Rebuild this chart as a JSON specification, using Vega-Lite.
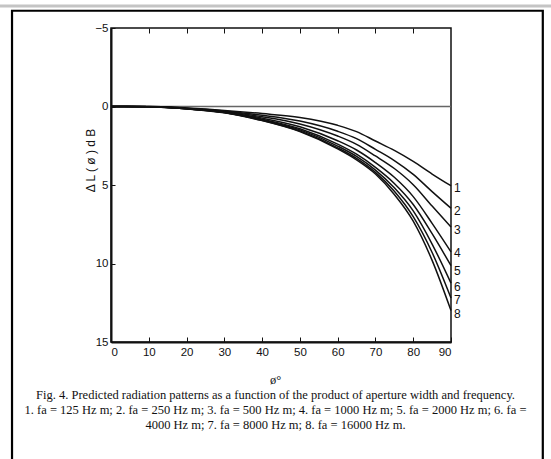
{
  "$schema": "https://vega.github.io/schema/vega-lite/v6.json",
  "width": 340,
  "height": 314,
  "autosize": {"type": "none"},
  "padding": {"left": 111, "top": 28, "right": 100, "bottom": 117},
  "background": "white",
  "config": {
    "view": {"stroke": "#111", "strokeWidth": 1.5},
    "axis": {
      "labelFont": "Liberation Sans Narrow, Liberation Sans, sans-serif",
      "labelFontSize": 11.5,
      "labelColor": "#111",
      "titleFont": "Liberation Sans, sans-serif",
      "titleFontWeight": "normal",
      "titleColor": "#111",
      "domainColor": "#111",
      "tickColor": "#111",
      "grid": false
    }
  },
  "datasets": {
    "curves": [
      {"curve": "1", "angle": 0, "dL": 0}, {"curve": "1", "angle": 10, "dL": 0}, {"curve": "1", "angle": 20, "dL": 0.1}, {"curve": "1", "angle": 30, "dL": 0.25}, {"curve": "1", "angle": 40, "dL": 0.45}, {"curve": "1", "angle": 50, "dL": 0.7}, {"curve": "1", "angle": 60, "dL": 1.2}, {"curve": "1", "angle": 65, "dL": 1.6}, {"curve": "1", "angle": 70, "dL": 2.2}, {"curve": "1", "angle": 75, "dL": 2.8}, {"curve": "1", "angle": 80, "dL": 3.5}, {"curve": "1", "angle": 85, "dL": 4.3}, {"curve": "1", "angle": 90, "dL": 5.05},
      {"curve": "2", "angle": 0, "dL": 0}, {"curve": "2", "angle": 10, "dL": 0}, {"curve": "2", "angle": 20, "dL": 0.11}, {"curve": "2", "angle": 30, "dL": 0.29}, {"curve": "2", "angle": 40, "dL": 0.56}, {"curve": "2", "angle": 50, "dL": 0.93}, {"curve": "2", "angle": 60, "dL": 1.58}, {"curve": "2", "angle": 65, "dL": 2.05}, {"curve": "2", "angle": 70, "dL": 2.73}, {"curve": "2", "angle": 75, "dL": 3.44}, {"curve": "2", "angle": 80, "dL": 4.32}, {"curve": "2", "angle": 85, "dL": 5.42}, {"curve": "2", "angle": 90, "dL": 6.48},
      {"curve": "3", "angle": 0, "dL": 0}, {"curve": "3", "angle": 10, "dL": 0.01}, {"curve": "3", "angle": 20, "dL": 0.12}, {"curve": "3", "angle": 30, "dL": 0.32}, {"curve": "3", "angle": 40, "dL": 0.65}, {"curve": "3", "angle": 50, "dL": 1.11}, {"curve": "3", "angle": 60, "dL": 1.88}, {"curve": "3", "angle": 65, "dL": 2.41}, {"curve": "3", "angle": 70, "dL": 3.15}, {"curve": "3", "angle": 75, "dL": 3.95}, {"curve": "3", "angle": 80, "dL": 4.98}, {"curve": "3", "angle": 85, "dL": 6.34}, {"curve": "3", "angle": 90, "dL": 7.67},
      {"curve": "4", "angle": 0, "dL": 0}, {"curve": "4", "angle": 10, "dL": 0.01}, {"curve": "4", "angle": 20, "dL": 0.13}, {"curve": "4", "angle": 30, "dL": 0.35}, {"curve": "4", "angle": 40, "dL": 0.74}, {"curve": "4", "angle": 50, "dL": 1.29}, {"curve": "4", "angle": 60, "dL": 2.18}, {"curve": "4", "angle": 65, "dL": 2.77}, {"curve": "4", "angle": 70, "dL": 3.57}, {"curve": "4", "angle": 75, "dL": 4.51}, {"curve": "4", "angle": 80, "dL": 5.74}, {"curve": "4", "angle": 85, "dL": 7.44}, {"curve": "4", "angle": 90, "dL": 9.26},
      {"curve": "5", "angle": 0, "dL": 0}, {"curve": "5", "angle": 10, "dL": 0.02}, {"curve": "5", "angle": 20, "dL": 0.14}, {"curve": "5", "angle": 30, "dL": 0.37}, {"curve": "5", "angle": 40, "dL": 0.81}, {"curve": "5", "angle": 50, "dL": 1.42}, {"curve": "5", "angle": 60, "dL": 2.4}, {"curve": "5", "angle": 65, "dL": 3.04}, {"curve": "5", "angle": 70, "dL": 3.88}, {"curve": "5", "angle": 75, "dL": 4.9}, {"curve": "5", "angle": 80, "dL": 6.24}, {"curve": "5", "angle": 85, "dL": 8.1}, {"curve": "5", "angle": 90, "dL": 10.14},
      {"curve": "6", "angle": 0, "dL": 0}, {"curve": "6", "angle": 10, "dL": 0.02}, {"curve": "6", "angle": 20, "dL": 0.14}, {"curve": "6", "angle": 30, "dL": 0.38}, {"curve": "6", "angle": 40, "dL": 0.85}, {"curve": "6", "angle": 50, "dL": 1.49}, {"curve": "6", "angle": 60, "dL": 2.52}, {"curve": "6", "angle": 65, "dL": 3.18}, {"curve": "6", "angle": 70, "dL": 4.05}, {"curve": "6", "angle": 75, "dL": 5.18}, {"curve": "6", "angle": 80, "dL": 6.65}, {"curve": "6", "angle": 85, "dL": 8.76}, {"curve": "6", "angle": 90, "dL": 11.25},
      {"curve": "7", "angle": 0, "dL": 0}, {"curve": "7", "angle": 10, "dL": 0.02}, {"curve": "7", "angle": 20, "dL": 0.15}, {"curve": "7", "angle": 30, "dL": 0.39}, {"curve": "7", "angle": 40, "dL": 0.88}, {"curve": "7", "angle": 50, "dL": 1.56}, {"curve": "7", "angle": 60, "dL": 2.63}, {"curve": "7", "angle": 65, "dL": 3.31}, {"curve": "7", "angle": 70, "dL": 4.2}, {"curve": "7", "angle": 75, "dL": 5.4}, {"curve": "7", "angle": 80, "dL": 7.02}, {"curve": "7", "angle": 85, "dL": 9.3}, {"curve": "7", "angle": 90, "dL": 12.2},
      {"curve": "8", "angle": 0, "dL": 0}, {"curve": "8", "angle": 10, "dL": 0.02}, {"curve": "8", "angle": 20, "dL": 0.15}, {"curve": "8", "angle": 30, "dL": 0.4}, {"curve": "8", "angle": 40, "dL": 0.9}, {"curve": "8", "angle": 50, "dL": 1.6}, {"curve": "8", "angle": 60, "dL": 2.7}, {"curve": "8", "angle": 65, "dL": 3.4}, {"curve": "8", "angle": 70, "dL": 4.3}, {"curve": "8", "angle": 75, "dL": 5.6}, {"curve": "8", "angle": 80, "dL": 7.3}, {"curve": "8", "angle": 85, "dL": 9.8}, {"curve": "8", "angle": 90, "dL": 13.0}
    ],
    "labels": [
      {"curve": "1", "angle": 90, "dL": 5.2},
      {"curve": "2", "angle": 90, "dL": 6.65},
      {"curve": "3", "angle": 90, "dL": 7.85},
      {"curve": "4", "angle": 90, "dL": 9.3},
      {"curve": "5", "angle": 90, "dL": 10.45},
      {"curve": "6", "angle": 90, "dL": 11.5},
      {"curve": "7", "angle": 90, "dL": 12.35},
      {"curve": "8", "angle": 90, "dL": 13.2}
    ]
  },
  "layer": [
    {
      "data": {"values": [{}]},
      "mark": {"type": "rect", "filled": false, "stroke": "#000", "strokeWidth": 2.2, "clip": false},
      "encoding": {
        "x": {"datum": -26.2, "type": "quantitative", "axis": null, "scale": {"domain": [0, 90], "nice": false, "zero": false}},
        "x2": {"datum": 114.3},
        "y": {"datum": -6.1, "type": "quantitative", "scale": {"domain": [-5, 15], "reverse": true, "nice": false, "zero": false}},
        "y2": {"datum": 25}
      }
    },
    {
      "data": {"values": [{}]},
      "mark": {"type": "rule", "stroke": "#c4c4c4", "strokeWidth": 3, "clip": false},
      "encoding": {
        "x": {"datum": -29.5, "type": "quantitative", "axis": null},
        "x2": {"datum": 116.5},
        "y": {"datum": -6.4, "type": "quantitative"}
      }
    },
    {
      "data": {"values": [{}]},
      "mark": {"type": "rule", "stroke": "#666", "strokeWidth": 1.3},
      "encoding": {
        "y": {"datum": 0, "type": "quantitative"}
      }
    },
    {
      "data": {"name": "curves"},
      "mark": {"type": "line", "interpolate": "monotone", "stroke": "#111", "strokeWidth": 1.5},
      "encoding": {
        "x": {
          "field": "angle", "type": "quantitative",
          "axis": {
            "orient": "bottom", "values": [0, 10, 20, 30, 40, 50, 60, 70, 80, 90], "tickSize": -5, "labelPadding": 9, "domainWidth": 2,
            "title": [
              "ø°",
              "Fig. 4.   Predicted radiation patterns as a function of the product of aperture width and frequency.",
              "1. fa = 125 Hz m; 2. fa = 250 Hz m; 3. fa = 500 Hz m; 4. fa = 1000 Hz m; 5. fa = 2000 Hz m; 6. fa =",
              "4000 Hz m; 7. fa = 8000 Hz m; 8. fa = 16000 Hz m."
            ],
            "titleFont": "Liberation Serif, serif", "titleFontSize": 12.5, "titleLineHeight": 15, "titleX": 164, "titleY": 31, "titleBaseline": "top", "titleAlign": "center"
          }
        },
        "y": {
          "field": "dL", "type": "quantitative",
          "axis": {"orient": "left", "values": [-5, 0, 5, 10, 15], "tickSize": -4, "labelPadding": 7, "domainWidth": 2, "title": "Δ L ( ø ) d B", "titleFontSize": 12, "titleX": -21, "titleY": 132, "titleAngle": -90, "titleBaseline": "middle", "titleAlign": "center"}
        },
        "detail": {"field": "curve"}
      }
    },
    {
      "data": {"name": "labels"},
      "mark": {"type": "text", "align": "left", "baseline": "middle", "dx": 3, "font": "Liberation Sans Narrow, Liberation Sans, sans-serif", "fontSize": 12, "color": "#111"},
      "encoding": {
        "x": {"field": "angle", "type": "quantitative", "axis": null},
        "y": {"field": "dL", "type": "quantitative"},
        "text": {"field": "curve"}
      }
    },
    {
      "data": {"values": [{}]},
      "mark": {"type": "rule", "strokeWidth": 0},
      "encoding": {
        "x": {"datum": 0, "type": "quantitative", "axis": {"orient": "top", "values": [10, 20, 30, 40, 50, 60, 70, 80], "tickSize": -5, "labels": false, "domain": false, "title": null}}
      }
    }
  ]
}
